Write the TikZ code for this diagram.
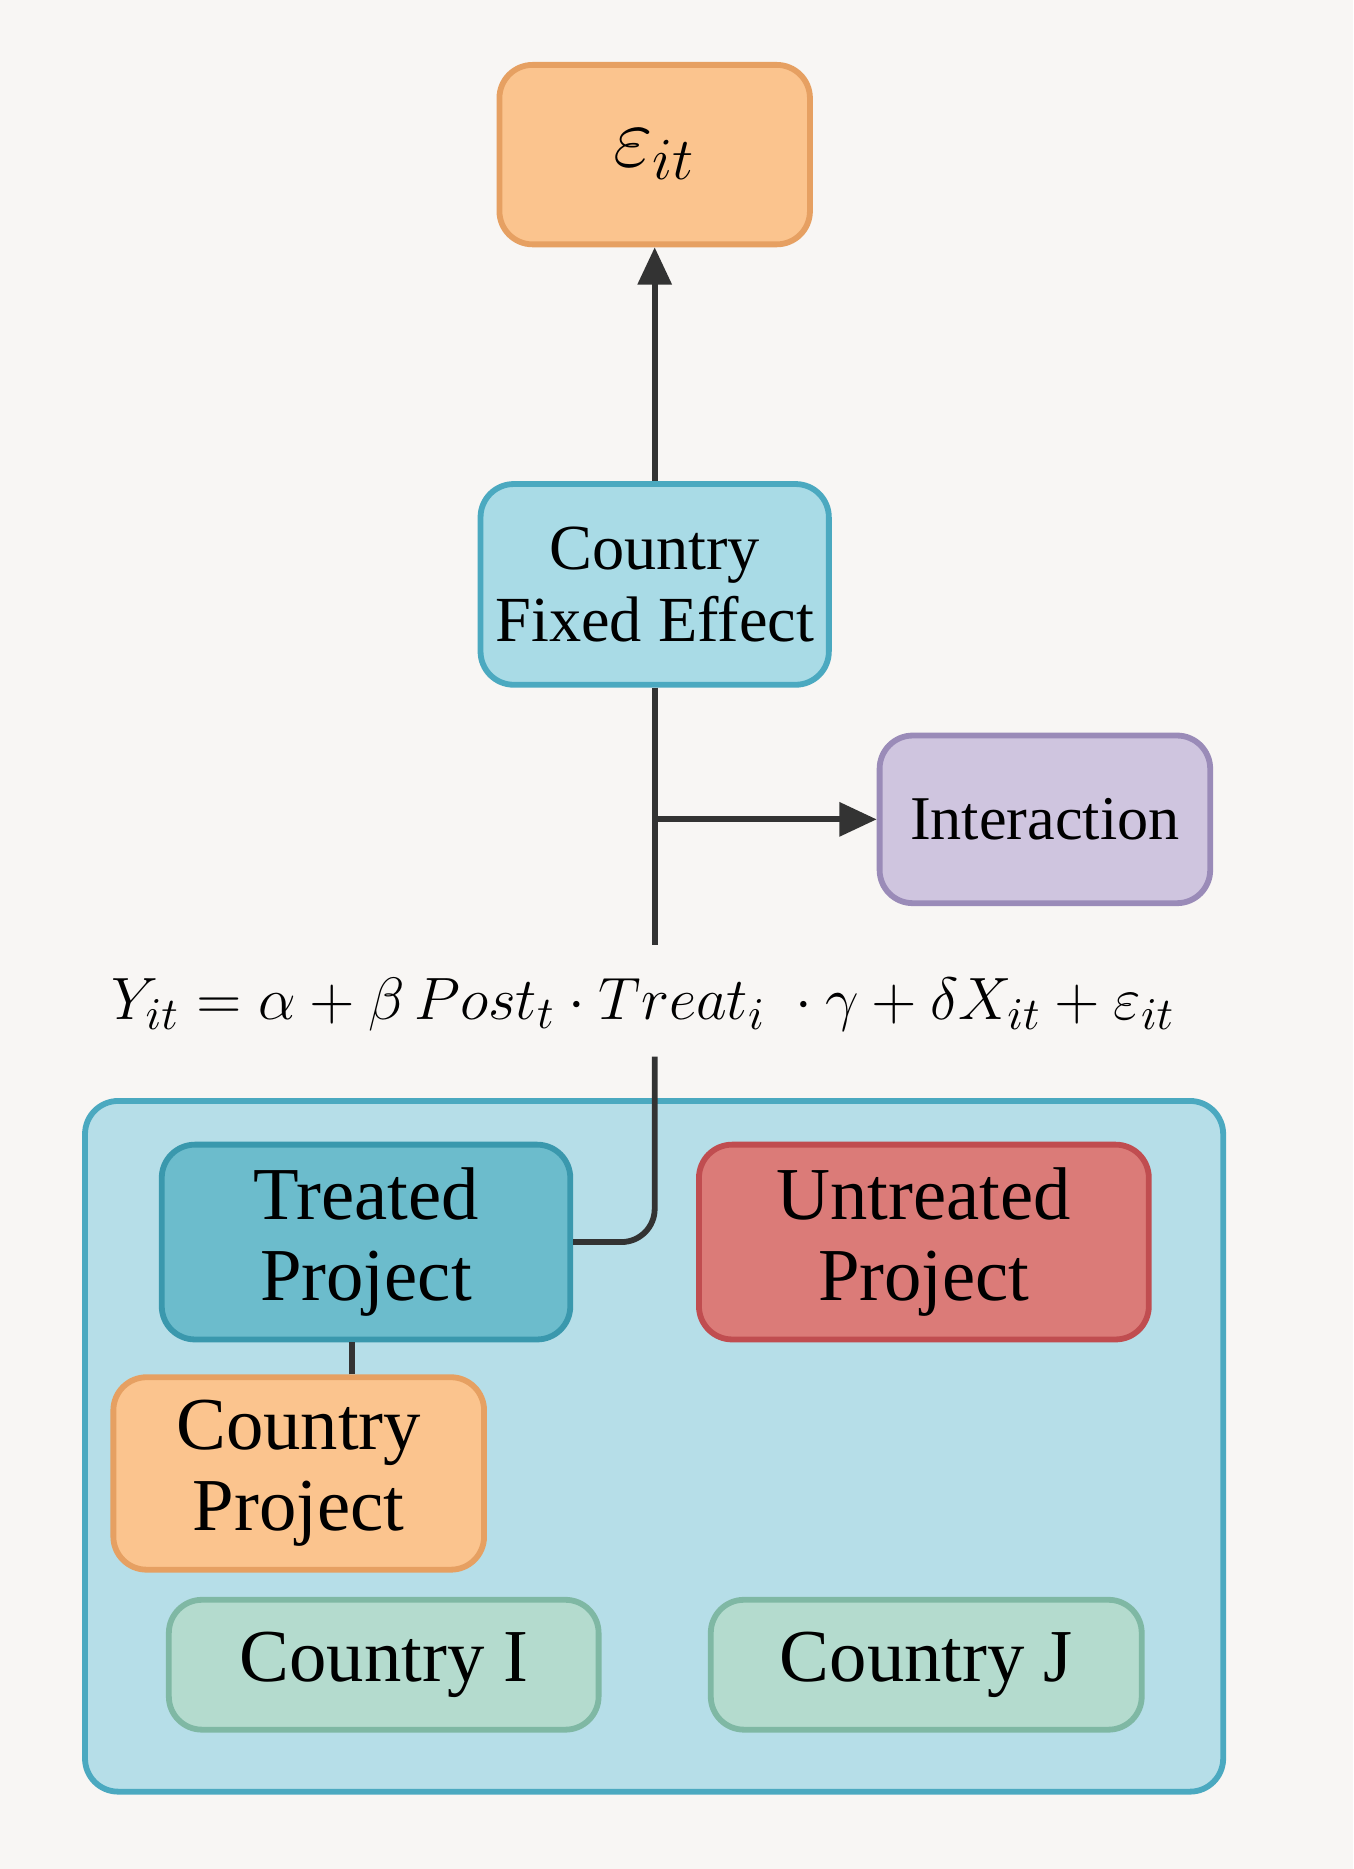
\documentclass[tikz,border=0pt]{standalone}
\usepackage{fontspec}
\setmainfont{Liberation Serif}
\usepackage{amsmath}
\usetikzlibrary{arrows.meta}
\definecolor{paper}{HTML}{F8F6F4}
\definecolor{orfill}{HTML}{FBC48E}
\definecolor{ordraw}{HTML}{E6A062}
\definecolor{cyfill}{HTML}{A9DBE6}
\definecolor{cydraw}{HTML}{4BA9C0}
\definecolor{vifill}{HTML}{CFC5DF}
\definecolor{vidraw}{HTML}{9A8BB8}
\definecolor{bgfill}{HTML}{B6DEE8}
\definecolor{trfill}{HTML}{6CBCCC}
\definecolor{trdraw}{HTML}{3A98AD}
\definecolor{unfill}{HTML}{DB7B78}
\definecolor{undraw}{HTML}{C04D50}
\definecolor{grfill}{HTML}{B4DBCE}
\definecolor{grdraw}{HTML}{7FB8A4}
\definecolor{ink}{HTML}{333333}
\tikzset{
  box/.style={rounded corners=8pt, line width=1.4pt, align=center, inner sep=0pt},
  big/.style={font=\fontsize{18}{19.5}\selectfont},
  link/.style={ink, line width=1.4pt},
  arr/.style={link, -{Triangle[length=9pt,width=8pt]}}
}
\begin{document}
\begin{tikzpicture}
\useasboundingbox (0,0) rectangle (11.46,15.83);
\fill[paper] (0,0) rectangle (11.46,15.83);

% outer panel
\node[box, fill=bgfill, draw=cydraw, minimum width=9.64cm, minimum height=5.85cm] (panel) at (5.54,3.58) {};

% top boxes
\node[box, fill=orfill, draw=ordraw, minimum width=2.63cm, minimum height=1.52cm, font=\fontsize{21}{24}\selectfont] (eps) at (5.545,14.52) {$\varepsilon_{it}$};
\node[box, fill=cyfill, draw=cydraw, minimum width=2.95cm, minimum height=1.70cm, font=\fontsize{15.5}{17.5}\selectfont] (cfe) at (5.545,10.88) {Country\\Fixed Effect};
\node[box, fill=vifill, draw=vidraw, minimum width=2.80cm, minimum height=1.42cm, font=\fontsize{15}{17}\selectfont] (inter) at (8.85,8.89) {Interaction};

% equation
\node[font=\fontsize{15.5}{18}\selectfont] (eq) at (5.45,7.32) {$Y_{it}=\alpha+\beta\,Post_t\cdot Treat_i\ \cdot\gamma+\delta X_{it}+\varepsilon_{it}$};

% inner boxes
\node[box, big, fill=trfill, draw=trdraw, minimum width=3.46cm, minimum height=1.65cm] (treated) at (3.10,5.31) {Treated\\Project};
\node[box, big, fill=unfill, draw=undraw, minimum width=3.81cm, minimum height=1.65cm] (untreated) at (7.825,5.31) {Untreated\\Project};
\node[box, big, fill=orfill, draw=ordraw, minimum width=3.14cm, minimum height=1.63cm] (cproj) at (2.53,3.35) {Country\\Project};
\node[box, big, fill=grfill, draw=grdraw, minimum width=3.64cm, minimum height=1.10cm] (ci) at (3.25,1.73) {Country I};
\node[box, big, fill=grfill, draw=grdraw, minimum width=3.65cm, minimum height=1.10cm] (cj) at (7.845,1.73) {Country J};

% connectors
\coordinate (eqtop) at (5.545,7.83);
\coordinate (eqbot) at (5.545,6.88);
\coordinate (branch) at (5.545,8.89);
\draw[arr] (cfe.north) -- (eps.south);
\draw[link] (cfe.south) -- (eqtop);
\draw[arr] (branch) -- (inter.west);
\draw[link, rounded corners=8pt] (eqbot) |- (treated.east);
\draw[link] (cproj.north -| 2.98,0) -- (treated.south -| 2.98,0);
\end{tikzpicture}
\end{document}
